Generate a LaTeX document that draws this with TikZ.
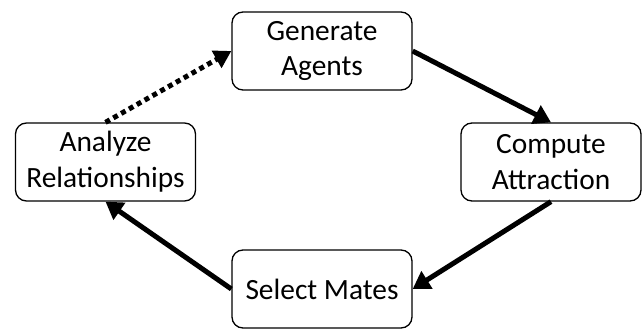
\documentclass[tikz,border=0pt]{standalone}
\usepackage{fontspec}
\setmainfont{Carlito}
\usetikzlibrary{arrows.meta}
\begin{document}
\begin{tikzpicture}[x=1bp,y=1bp,
  stepbox/.style={draw,line width=1.3bp,rounded corners=11bp,minimum width=180bp,minimum height=78bp,align=center,inner sep=0pt,font=\fontsize{29.5}{36}\selectfont},
  flow/.style={line width=5bp,-{Triangle[length=17bp,width=20bp]}},
  dotflow/.style={line width=5bp,dash pattern=on 5bp off 4bp,-{Triangle[length=17bp,width=19bp]}}]
\useasboundingbox (0,0) rectangle (644,329);
\node[stepbox] (gen) at (322,278) {Generate\\Agents};
\node[stepbox] (ana) at (105.5,167) {Analyze\\Relationships};
\node[stepbox] (comp) at (551,167) {Compute\\Attraction};
\node[stepbox] (sel) at (322,40) {Select Mates};
\draw[flow] (gen.east) -- (comp.north);
\draw[flow] (comp.south) -- (sel.east);
\draw[flow] (sel.west) -- (ana.south);
\draw[dotflow] (ana.north) -- (gen.west);
\end{tikzpicture}
\end{document}
